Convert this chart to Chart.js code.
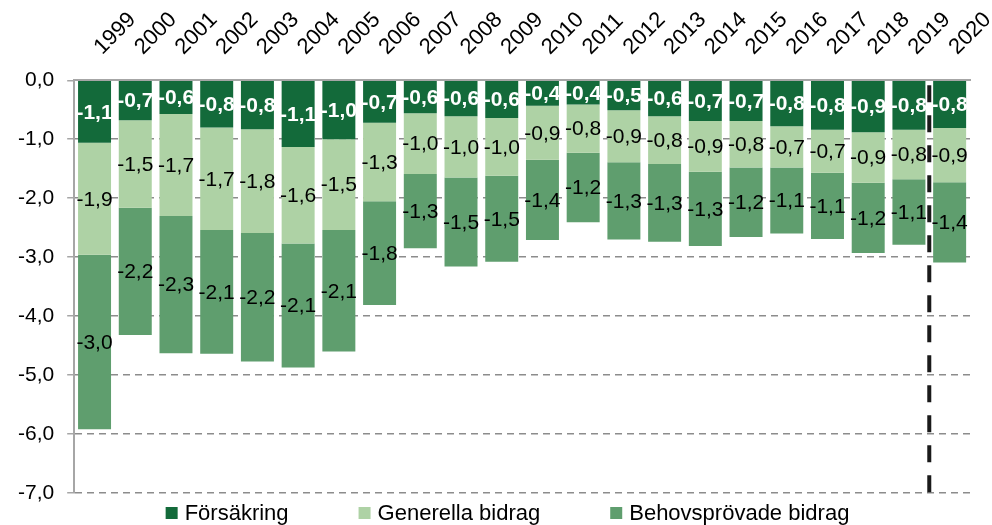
<!DOCTYPE html>
<html><head><meta charset="utf-8">
<script src="https://cdn.jsdelivr.net/npm/chart.js@4/dist/chart.umd.min.js"></script>
<style>html,body{margin:0;padding:0;background:#fff;overflow:hidden}</style>
</head><body>
<canvas id="c" width="992" height="525" style="width:992px;height:525px"></canvas>
<script>
const years = ['1999','2000','2001','2002','2003','2004','2005','2006','2007','2008','2009','2010','2011','2012','2013','2014','2015','2016','2017','2018','2019','2020'];
const forsakring = [-1.06,-0.68,-0.57,-0.80,-0.83,-1.13,-1.00,-0.72,-0.56,-0.61,-0.64,-0.43,-0.41,-0.51,-0.61,-0.69,-0.69,-0.78,-0.84,-0.88,-0.84,-0.81];
const generella = [-1.90,-1.48,-1.73,-1.74,-1.76,-1.64,-1.54,-1.33,-1.03,-1.04,-0.98,-0.92,-0.82,-0.88,-0.81,-0.86,-0.79,-0.70,-0.73,-0.86,-0.84,-0.92];
const behovsprovade = [-2.96,-2.16,-2.33,-2.10,-2.18,-2.10,-2.06,-1.76,-1.26,-1.51,-1.46,-1.36,-1.18,-1.31,-1.32,-1.26,-1.18,-1.12,-1.12,-1.19,-1.11,-1.36];
const seriesNames = ['Försäkring','Generella bidrag','Behovsprövade bidrag'];
const seriesColors = ['#136a3a','#aed2a5','#5f9e6e'];
const seriesData = [forsakring, generella, behovsprovade];
const FONT = '"Liberation Sans", Arial, sans-serif';
const fmt = v => (Math.abs(v) < 1e-9 ? 0 : v).toFixed(1).replace('.', ',');

const valueLabels = {
  id: 'valueLabels',
  afterDatasetsDraw(chart) {
    const ctx = chart.ctx;
    chart.data.datasets.forEach((ds, di) => {
      const meta = chart.getDatasetMeta(di);
      meta.data.forEach((bar, i) => {
        const p = bar.getProps(['x','y','base'], true);
        ctx.save();
        ctx.font = (di === 0 ? 'bold ' : '') + '21px ' + FONT;
        ctx.fillStyle = di === 0 ? '#ffffff' : '#000000';
        ctx.textAlign = 'center';
        ctx.textBaseline = 'middle';
        ctx.fillText(fmt(ds.data[i]), p.x, (p.y + p.base) / 2 + 1);
        ctx.restore();
      });
    });
  }
};

const divider = {
  id: 'divider',
  afterDatasetsDraw(chart) {
    const ctx = chart.ctx, xs = chart.scales.x, a = chart.chartArea;
    const px = (xs.getPixelForValue(years.length - 2) + xs.getPixelForValue(years.length - 1)) / 2;
    ctx.save();
    ctx.strokeStyle = '#1a1a1a';
    ctx.lineWidth = 4;
    ctx.setLineDash([17, 13]);
    ctx.lineDashOffset = -5;
    ctx.beginPath();
    ctx.moveTo(px, a.top);
    ctx.lineTo(px, a.bottom);
    ctx.stroke();
    ctx.restore();
  }
};

const legendPlugin = {
  id: 'customLegend',
  afterDraw(chart) {
    const ctx = chart.ctx;
    ctx.save();
    ctx.font = '22px ' + FONT;
    ctx.textBaseline = 'middle';
    ctx.textAlign = 'left';
    const box = 12, gap = 7, spacing = 70;
    const widths = seriesNames.map(n => ctx.measureText(n).width);
    const total = widths.reduce((s, w) => s + box + gap + w, 0) + spacing * (seriesNames.length - 1);
    let x = chart.width * 0.5116 - total / 2;
    const y = chart.chartArea.bottom + 20;
    seriesNames.forEach((n, i) => {
      ctx.fillStyle = seriesColors[i];
      ctx.fillRect(x, y - box / 2, box, box);
      ctx.fillStyle = '#000';
      ctx.fillText(n, x + box + gap, y + 1);
      x += box + gap + widths[i] + spacing;
    });
    ctx.restore();
  }
};

new Chart(document.getElementById('c'), {
  type: 'bar',
  data: {
    labels: years,
    datasets: seriesNames.map((n, i) => ({
      label: n, data: seriesData[i], backgroundColor: seriesColors[i],
      borderWidth: 0, barPercentage: 0.81, categoryPercentage: 1
    }))
  },
  options: {
    responsive: false, animation: false, devicePixelRatio: 1,
    layout: { padding: { top: -5, left: 5, right: 22, bottom: 32 } },
    plugins: { legend: { display: false }, tooltip: { enabled: false } },
    scales: {
      x: {
        position: 'top', stacked: true,
        grid: { display: false },
        border: { display: true, color: '#a6a6a6', width: 2 },
        ticks: { font: { size: 22, family: FONT }, color: '#000', minRotation: 45, maxRotation: 45, autoSkip: false, padding: 12, labelOffset: 22 },
        afterFit(s) { s.paddingRight = 0; s.paddingLeft = 0; }
      },
      y: {
        stacked: true, min: -7, max: 0,
        ticks: { stepSize: 1, font: { size: 21, family: FONT }, color: '#000', padding: 13, callback: v => fmt(v) },
        grid: { color: c => (c.tick && c.tick.value === 0) ? 'rgba(0,0,0,0)' : '#8c8c8c', lineWidth: 1.5, tickLength: 7, drawTicks: true, tickColor: '#a6a6a6' },
        border: { display: true, color: '#a6a6a6', width: 2, dash: [7, 5] }
      }
    }
  },
  plugins: [valueLabels, divider, legendPlugin]
});
</script>
</body></html>
